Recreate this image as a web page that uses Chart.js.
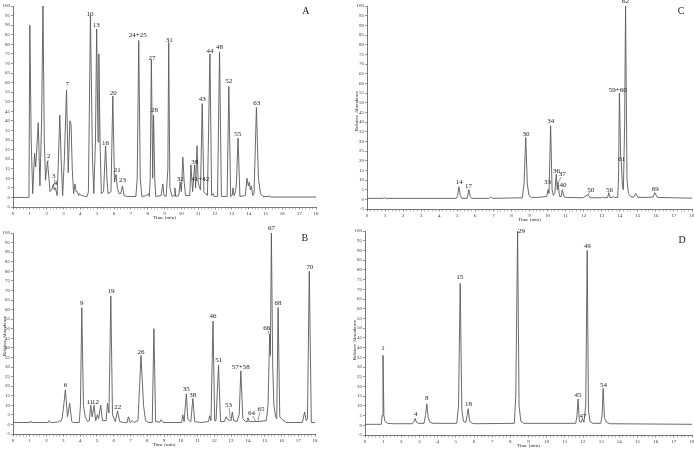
<!DOCTYPE html>
<html><head><meta charset="utf-8">
<script src="https://cdn.jsdelivr.net/npm/chart.js@4.4.1/dist/chart.umd.min.js"></script>
<style>
body{margin:0;background:#fff;width:694px;height:449px;overflow:hidden;position:relative;}
canvas{position:absolute;}
</style></head><body>
<canvas id="cA" width="347" height="224" style="left:0;top:0;width:347px;height:224px"></canvas>
<canvas id="cB" width="347" height="224" style="left:0;top:225px;width:347px;height:224px"></canvas>
<canvas id="cC" width="347" height="224" style="left:347px;top:0;width:347px;height:224px"></canvas>
<canvas id="cD" width="347" height="224" style="left:347px;top:225px;width:347px;height:224px"></canvas>
<script>
// ---------- Panel A ----------
const timesA = [0,0.9,0.95,1.0,1.08,1.17,1.28,1.35,1.5,1.6,1.7,1.78,1.86,1.93,2.05,2.2,2.3,2.4,2.45,2.52,2.62,2.7,2.78,2.86,2.95,3.05,3.18,3.28,3.38,3.45,3.52,3.6,3.68,3.75,3.82,3.9,3.95,4.05,4.15,4.25,4.4,4.48,4.6,4.72,4.8,4.9,4.97,5.05,5.1,5.18,5.25,5.38,5.5,5.58,5.65,5.82,5.93,6.03,6.12,6.2,6.3,6.4,6.5,6.6,6.75,7.3,7.38,7.47,7.56,7.65,7.95,8.05,8.1,8.15,8.22,8.3,8.35,8.42,8.48,8.8,8.9,8.97,9.1,9.2,9.25,9.32,9.45,9.58,9.62,9.66,9.85,9.93,10.0,10.09,10.17,10.25,10.5,10.57,10.67,10.79,10.85,10.93,11.0,11.08,11.14,11.24,11.34,11.55,11.7,11.8,11.88,11.95,12.15,12.27,12.38,12.72,12.82,12.93,13.02,13.07,13.13,13.22,13.27,13.37,13.48,13.8,13.9,13.98,14.04,14.1,14.16,14.24,14.32,14.46,14.58,14.7,14.85,15.2,15.25,15.3,18];
const valuesA = [0,0,5,90,30,2,23,16,39,6,40,100,30,9,19,3,4,7,4,5,1,20,43,20,1,20,56,13,40,38,15,2,7,3,3,1,2,1,1,0.5,0.5,3,95,20,2,30,88,29,75,25,2,3,27,10,2,3,53,8,12,5,2,2,6,1,0.5,0.5,10,82,10,0.5,1,2,0.5,10,72,10,43,10,0.5,1,7,1,0.5,15,81,5,0.5,1,5,0.5,1,8,3,21,8,1,1,17,3,17,5,27,8,5,4,49,3,1,75,1,2,0.5,0.5,76,0.5,0.5,58,0.5,1,5,1,3,7,31,0.5,1,10,6,8,4,6,1,2,47,10,2,0.5,0.5,0.9,0.2,0.2];
const labelTextA = ["2","3","4","7","10","13","16","20","21","23","24+25","27","28","31","32","39","41+42","43","44","48","52","55","63"];
const labelTimeA = [2.12,2.42,2.52,3.23,4.58,4.95,5.49,5.96,6.2,6.51,7.41,8.26,8.41,9.28,9.93,10.8,11.12,11.24,11.7,12.27,12.81,13.35,14.48];
const labelValA  = [21.6,11,7.5,59,96,90,28.6,54.6,14.5,9,85,73,45.5,82,9.6,18.5,9.8,51.5,76.6,78.4,60.6,33,49];

// ---------- Panel B ----------
const timesB = [0,1.0,1.05,1.1,2.1,2.15,2.25,2.7,2.78,2.85,2.92,3.0,3.12,3.25,3.38,3.5,3.6,3.95,4.02,4.1,4.2,4.3,4.45,4.55,4.63,4.72,4.83,4.93,5.03,5.1,5.23,5.33,5.55,5.63,5.72,5.83,5.93,6.1,6.23,6.36,6.6,6.8,6.88,6.97,7.12,7.22,7.45,7.63,7.78,7.9,8.1,8.3,8.4,8.5,8.75,8.83,8.95,10.05,10.12,10.2,10.33,10.42,10.5,10.6,10.72,10.83,11.2,11.38,11.65,11.72,11.8,11.92,12.02,12.1,12.25,12.37,12.6,12.7,12.8,12.92,13.0,13.07,13.15,13.35,13.48,13.58,13.7,13.85,13.95,14.0,14.1,14.6,15.1,15.2,15.3,15.34,15.4,15.48,15.55,15.65,15.72,15.8,15.9,16.05,16.3,17.25,17.38,17.48,17.55,17.66,17.78,18];
const valuesB = [1,1,1.8,1,1,2,1,1.2,2,1.5,3,8,18,4,11,1.5,1,1,10,61,10,4,1.5,2,10,4,10,2,5,3,10,2,2,11,6,67,5,1.5,7,1.5,1,1,4,1,2,1,2,36,10,2,1,1,50,1.5,1.2,2.5,1,1,5,1.5,16,3,2,1.5,13.5,1.5,1,1.2,1.5,4.5,2,54,2,2,31,1.5,1.5,4,2.5,2,2,6.5,2,1.5,5,28,3,1.5,1.5,3.5,1.5,1.5,2,10,47,36,100,30,10,4,3,61,4,2.5,1,1,6.5,2,3,80,1,1];
const labelTextB = ["6","9","11","12","19","22","26","35","38","46","51","53","57+58","64","65","66","67","68","70"];
const labelTimeB = [3.13,4.1,4.58,4.92,5.84,6.24,7.63,10.32,10.72,11.92,12.26,12.85,13.58,14.22,14.78,15.12,15.4,15.8,17.68];
const labelValB  = [20.5,63.5,11.5,11.5,69.5,8.8,38,18.4,15.2,56.8,33.7,9.9,30,5.8,8,50.5,102.5,63.5,82];

// ---------- Panel C ----------
const timesC = [0,0.9,0.95,1.0,4.95,5.02,5.09,5.17,5.25,5.55,5.64,5.72,5.8,6.75,6.85,6.95,8.6,8.7,8.79,8.88,8.97,9.1,9.5,9.95,10.03,10.08,10.17,10.25,10.32,10.4,10.48,10.54,10.58,10.66,10.75,10.82,10.9,11.0,11.9,12.0,12.25,12.35,13.0,13.05,13.12,13.33,13.39,13.46,13.6,13.65,13.72,13.88,13.93,13.98,14.05,14.08,14.15,14.2,14.27,14.32,14.4,14.48,14.6,14.75,14.89,15.0,15.6,15.85,15.94,16.08,17.0,18];
const valuesC = [0.5,0.5,1,0.5,0.5,2,6.5,2,0.5,0.5,5,1.5,0.5,0.5,1.2,0.5,0.8,8,32,8,2,1,1,1.5,5,3,38,5,2,3,13,5,9,1.5,1.5,5,1.5,1,0.8,1,2.5,0.8,0.8,1.2,0.8,1,3.5,1,1,1.5,1,1,10,55,22,20,6,5,39,100,10,3,1.5,1,3,1,1,1.2,3.5,1,0.8,0.6];
const labelTextC = ["14","17","30","33","34","36","37","40","50","56","59+60","61","62","69"];
const labelTimeC = [5.11,5.62,8.8,9.99,10.17,10.5,10.82,10.86,12.39,13.43,13.89,14.11,14.32,15.96];
const labelValC  = [8.7,6.7,33.6,8.8,40.3,14.6,12.8,7.5,5,5,56.5,21,102.5,5.5];

// ---------- Panel D ----------
const timesD = [0,0.9,0.94,0.99,1.04,1.1,1.25,1.5,2.6,2.7,2.76,2.84,2.95,3.25,3.33,3.4,3.48,3.58,3.75,5.05,5.15,5.24,5.33,5.42,5.55,5.62,5.68,5.76,5.9,6.1,8.22,8.3,8.4,8.48,8.58,8.75,11.6,11.67,11.73,11.8,11.9,11.97,12.05,12.15,12.23,12.3,12.38,12.55,12.98,13.05,13.11,13.18,13.3,13.5,18];
const valuesD = [0.5,0.5,5,36,5,2,1,0.8,0.8,2,3.5,1.5,1,1,5,11,4,1.5,1,1,10,73,8,2,1.5,5,8.5,2,1,0.8,1,15,100,10,2,1,1,5,13.5,2,1.5,3.5,1.5,10,90,8,2,1,1,5,19,4,1.5,0.8,0.5];
const labelTextD = ["1","4","8","15","18","29","45","47","49","54"];
const labelTimeD = [0.99,2.79,3.4,5.22,5.7,8.62,11.73,12.0,12.23,13.13];
const labelValD  = [39.5,5.5,14,76,11,100,15.5,4.5,92,20.5];

// leader lines: [labelTime, labelValue, peakTime, peakValue]
const leadersA = [[2.1,19.5,2.05,18],[2.45,9.5,2.5,6.5]];
const leadersB = [[12.88,8.5,12.95,3],[14.3,4.5,14.45,1.8],[14.72,6.5,14.6,2],[15.2,49,15.28,46.5]];
const leadersC = [[10.75,11.5,10.6,9],[12.33,3.8,12.25,2.5]];
const leadersD = [];

const panelLetters = ["A","B","C","D"];
const xTitle = "Time (min)";
const yTitle = "Relative Abundance";

const SERIF = '"Liberation Serif","DejaVu Serif",serif';

function makeChart(id, g, times, values, lText, lTime, lVal, leaders, letter, showYTitle) {
  const data = times.map((t,i)=>({x:t,y:values[i]}));
  const overlay = {
    id:'overlay'+id,
    afterDatasetsDraw(chart){
      const {ctx, scales:{x,y}, chartArea} = chart;
      ctx.save();
      ctx.fillStyle = '#222';
      ctx.textAlign='center'; ctx.textBaseline='middle';
      ctx.font = '7px '+SERIF;
      lText.forEach((txt,i)=>{
        ctx.fillText(txt, x.getPixelForValue(lTime[i]), y.getPixelForValue(lVal[i]));
      });
      ctx.strokeStyle='#555'; ctx.lineWidth=0.6;
      leaders.forEach(l=>{
        ctx.beginPath();
        ctx.moveTo(x.getPixelForValue(l[0]), y.getPixelForValue(l[1]));
        ctx.lineTo(x.getPixelForValue(l[2]), y.getPixelForValue(l[3]));
        ctx.stroke();
      });
      ctx.font = '10px '+SERIF;
      ctx.fillText(letter, x.getPixelForValue(g.letterT), y.getPixelForValue(g.letterV));
      ctx.font = '5px '+SERIF;
      ctx.fillText(xTitle, (chartArea.left+chartArea.right)/2, g.timeY);
      if (showYTitle) {
        ctx.translate(g.yTitleX, g.yTitleY);
        ctx.rotate(-Math.PI/2);
        ctx.fillText(yTitle, 0, 0);
      }
      ctx.restore();
    }
  };
  return new Chart(document.getElementById(id), {
    type:'line',
    data:{datasets:[{data, borderColor:'#5a5a5a', borderWidth:0.9, pointRadius:0, tension:0, fill:false}]},
    options:{
      responsive:false, animation:false, devicePixelRatio:1,
      layout:{padding:{left:0, top:g.top, right:347-g.right, bottom:0}},
      plugins:{legend:{display:false}, tooltip:{enabled:false}},
      scales:{
        x:{type:'linear', min:0, max:18,
          afterFit(s){ s.height = 224 - g.bottom; s.paddingLeft=0; s.paddingRight=0; },
          ticks:{stepSize:0.2, autoSkip:false, maxRotation:0, padding:1, color:'#333',
            font:{family:SERIF, size:5},
            callback:(v)=> Math.abs(v-Math.round(v))<1e-6 ? String(Math.round(v)) : ''},
          grid:{drawOnChartArea:false, drawTicks:true, tickLength:2.5,
            tickColor:(c)=> (c.tick && Math.abs(c.tick.value-Math.round(c.tick.value))<1e-6) ? '#444' : '#888',
            tickWidth:0.6},
          border:{display:true, color:'#555', width:0.8}
        },
        y:{type:'linear', min:-5, max:100,
          afterFit(s){ s.width = g.left; s.paddingTop=0; s.paddingBottom=0; },
          ticks:{stepSize:5, autoSkip:false, padding:1, color:'#333', font:{family:SERIF, size:5}},
          grid:{drawOnChartArea:false, drawTicks:true, tickLength:2, tickColor:'#555', tickWidth:0.6},
          border:{display:true, color:'#555', width:0.8}
        }
      }
    },
    plugins:[overlay]
  });
}

makeChart('cA', {left:13,right:316,top:6,bottom:207,timeY:218,letterT:17.4,letterV:97,}, timesA, valuesA, labelTextA, labelTimeA, labelValA, leadersA, panelLetters[0], false);
makeChart('cB', {left:13,right:315,top:8,bottom:209,timeY:220,letterT:17.4,letterV:97,yTitleX:5,yTitleY:111}, timesB, valuesB, labelTextB, labelTimeB, labelValB, leadersB, panelLetters[1], true);
makeChart('cC', {left:20,right:345,top:6,bottom:209,timeY:220,letterT:17.4,letterV:97,yTitleX:10,yTitleY:111}, timesC, valuesC, labelTextC, labelTimeC, labelValC, leadersC, panelLetters[2], true);
makeChart('cD', {left:18,right:345,top:6,bottom:210,timeY:221,letterT:17.45,letterV:95,yTitleX:8,yTitleY:115}, timesD, valuesD, labelTextD, labelTimeD, labelValD, leadersD, panelLetters[3], true);
</script>
</body></html>
